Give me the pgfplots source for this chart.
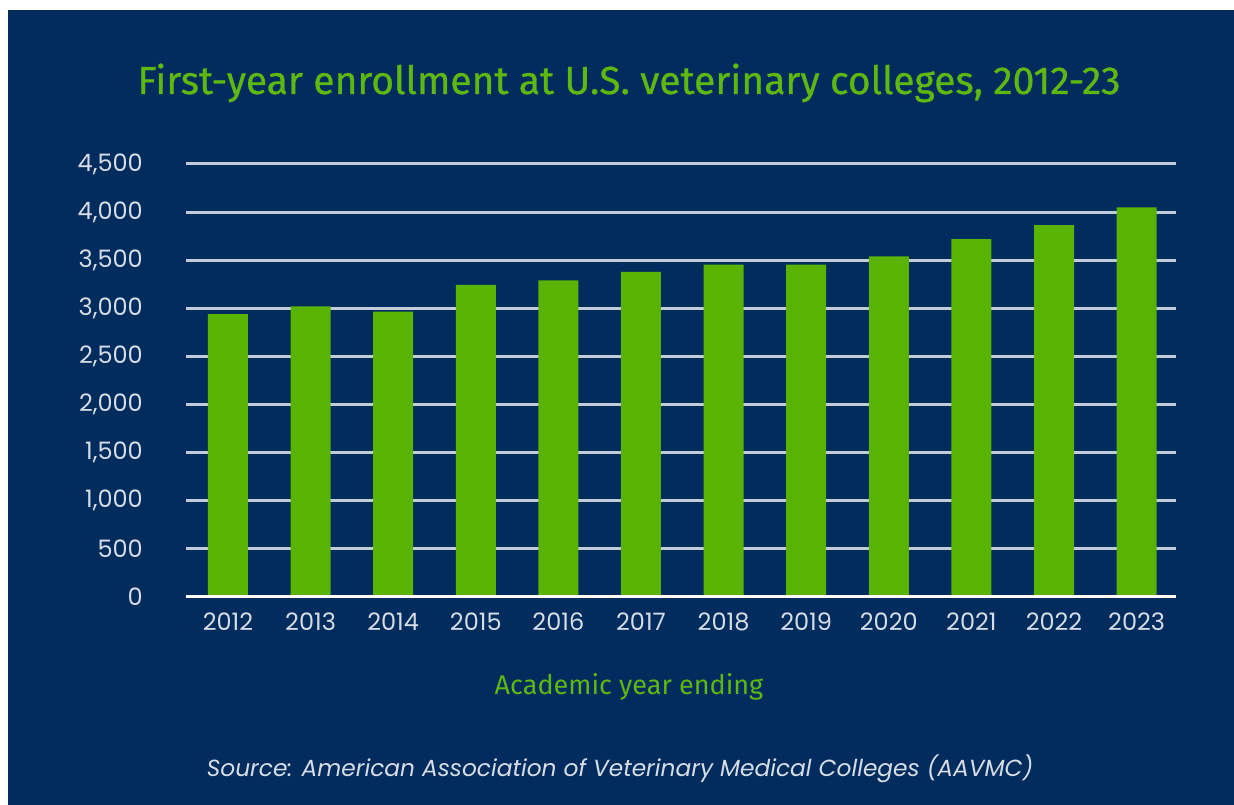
\documentclass[border=0pt]{standalone}
\usepackage{pgfplots}
\pgfplotsset{compat=1.18}
\usepackage{pgfplotstable}
\usepackage{fontspec}
\setmainfont{Poppins}
\newfontfamily\titlefont{Fira Sans}
\newfontfamily\titlefontbold[FakeBold=0.7]{Fira Sans}
\definecolor{navy}{HTML}{012C5D}
\definecolor{bargreen}{HTML}{58B400}
\definecolor{titlegreen}{HTML}{5DB80F}
\definecolor{gridc}{HTML}{C3CDDA}
\definecolor{ticktext}{HTML}{D6DDE7}

\pgfplotstableread{
x year value
0 2012 2940
1 2013 3020
2 2014 2965
3 2015 3245
4 2016 3290
5 2017 3380
6 2018 3455
7 2019 3455
8 2020 3540
9 2021 3720
10 2022 3865
11 2023 4050
}\enroll

\begin{document}
\begin{tikzpicture}[x=1pt,y=1pt]
\fill[white] (0,0) rectangle (1234,805);
\fill[navy] (8,0) rectangle (1234,795);
\begin{axis}[
  at={(186pt,208pt)}, anchor=south west,
  scale only axis, width=990pt, height=433pt,
  xmin=-0.508, xmax=11.477, ymin=0, ymax=4500,
  ytick={0,500,...,4500},
  xtick={0,...,11},
  xticklabels={2012,2013,2014,2015,2016,2017,2018,2019,2020,2021,2022,2023},
  axis line style={draw=none},
  major tick length=0pt,
  ymajorgrids, grid style={gridc, line width=3pt},
  /pgf/number format/.cd, 1000 sep={,}, assume math mode=true, /pgfplots/.cd,
  tick label style={ticktext, font=\fontsize{24}{24}\selectfont, inner sep=0pt},
  yticklabel style={anchor=east, xshift=-43pt},
  xticklabel style={anchor=north, yshift=-16pt},
  clip=false,
]
\addplot[ybar, bar width=40pt, fill=bargreen, draw=none] table[x=x, y=value] {\enroll};
\draw[white, line width=3pt] (rel axis cs:0,0) -- (rel axis cs:1,0);
\end{axis}
\node[anchor=base, text=titlegreen, inner sep=0pt, font=\titlefontbold\fontsize{39}{39}\selectfont] at (629,711) {First-year enrollment at U.S. veterinary colleges, 2012-23};
\node[anchor=base, text=titlegreen, inner sep=0pt, font=\titlefont\fontsize{27}{27}\selectfont] at (629,110) {Academic year ending};
\node[anchor=base, text=ticktext, inner sep=0pt, font=\itshape\fontsize{23.3}{23.3}\selectfont] at (620,28) {Source: American Association of Veterinary Medical Colleges (AAVMC)};
\end{tikzpicture}
\end{document}
